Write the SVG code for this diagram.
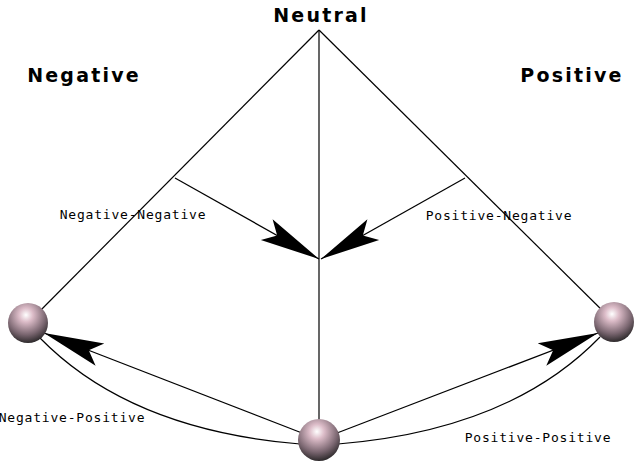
<svg xmlns="http://www.w3.org/2000/svg" width="640" height="470" viewBox="0 0 640 470">
<style>
.l{stroke:#000;stroke-width:1.2;fill:none}
.big{font-family:"DejaVu Sans",sans-serif;font-size:19px;font-weight:bold;letter-spacing:2.2px;text-anchor:middle}
.sm{font-family:"DejaVu Sans Mono",monospace;font-size:13px;letter-spacing:0.8px;text-anchor:middle}
</style>
<defs>
<radialGradient id="sg" cx="0.45" cy="0.3" r="0.7">
<stop offset="0" stop-color="#fff"/><stop offset="0.25" stop-color="#dcbcc8"/><stop offset="0.7" stop-color="#7a6670"/><stop offset="1" stop-color="#2e2a2c"/>
</radialGradient>
<marker id="ah" markerUnits="userSpaceOnUse" viewBox="-62 -14 64 28" refX="0" refY="0" markerWidth="64" markerHeight="28" orient="auto">
<path d="M0,0 L-60,-12 L-48,0 L-60,12 Z" fill="#000"/>
</marker>
</defs>
<g id="connectors">
<line class="l" x1="319" y1="30" x2="28" y2="323"/>
<line class="l" x1="319" y1="30" x2="614" y2="322"/>
<line class="l" x1="319" y1="30" x2="319" y2="425"/>
<line class="l" x1="175" y1="178" x2="319" y2="259" marker-end="url(#ah)"/>
<line class="l" x1="465" y1="178" x2="321" y2="259" marker-end="url(#ah)"/>
<line class="l" x1="302" y1="433" x2="44" y2="333" marker-end="url(#ah)"/>
<line class="l" x1="337" y1="433" x2="598" y2="333" marker-end="url(#ah)"/>
<path class="l" d="M40,338 Q130,430 300,444"/>
<path class="l" d="M338,444 Q510,430 600,337"/>
</g>
<g id="neutral"><text class="big" x="321" y="22">Neutral</text></g>
<g id="negative"><text class="big" x="84" y="82">Negative</text><circle cx="28" cy="323" r="20" fill="url(#sg)"/></g>
<g id="positive"><text class="big" x="572" y="82">Positive</text><circle cx="614" cy="322" r="20" fill="url(#sg)"/></g>
<g id="origin"><circle cx="319" cy="440" r="21" fill="url(#sg)"/></g>
<g id="labels">
<text class="sm" x="133" y="219">Negative-Negative</text>
<text class="sm" x="499" y="220">Positive-Negative</text>
<text class="sm" x="72" y="422">Negative-Positive</text>
<text class="sm" x="538" y="442">Positive-Positive</text>
</g>
</svg>
